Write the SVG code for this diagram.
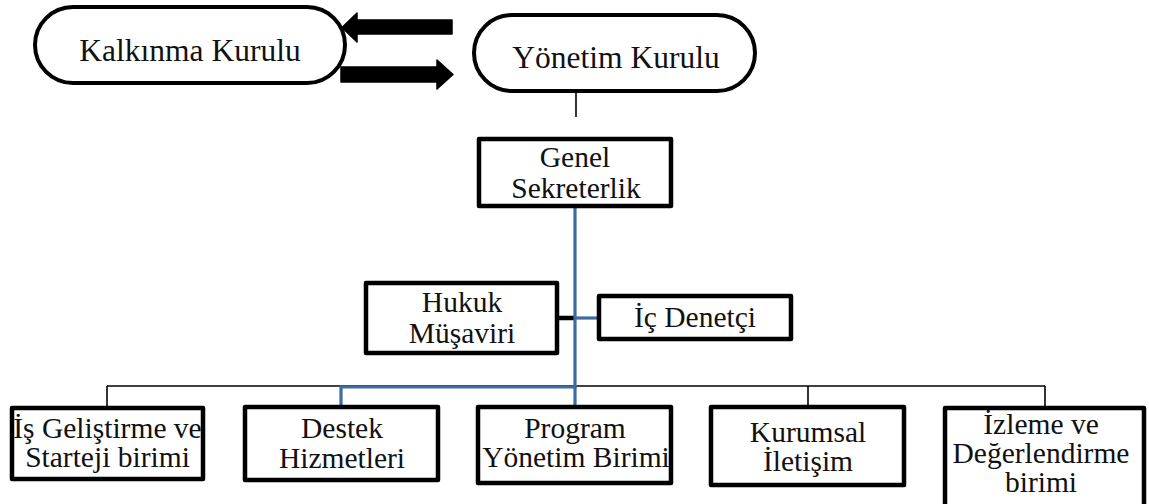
<svg xmlns="http://www.w3.org/2000/svg" width="1149" height="504" viewBox="0 0 1149 504">
  <style>
    .bg { fill: #ffffff; }
    .pill { fill: #ffffff; stroke: #000000; stroke-width: 4; }
    .box { fill: #ffffff; stroke: #000000; stroke-width: 4.5; stroke-linejoin: round; }
    .lbl { font-size: 29.5px; fill: #111111; text-anchor: middle; }
    .big { font-size: 31.5px; }
    .thin { stroke: #000000; stroke-width: 1.6; fill: none; }
    .thick { stroke: #000000; stroke-width: 4.5; fill: none; }
    .blue { stroke: #3E6BA0; stroke-width: 3.2; fill: none; }
    .arrow { fill: #000000; stroke: #000000; stroke-width: 1.5; stroke-linejoin: round; }
  </style>
  <rect class="bg" x="0" y="0" width="1149" height="504"/>

  <!-- connectors -->
  <g id="connectors">
    <!-- two-way exchange between the councils -->
    <polygon class="arrow" points="342,27.5 357,13 357,20 452,20 452,34 357,34 357,42"/>
    <polygon class="arrow" points="341,67 437,67 437,60 453,74.5 437,89 437,82 341,82"/>
    <!-- board to secretariat -->
    <line class="thin" x1="576" y1="93" x2="576" y2="117"/>
    <!-- unit bus -->
    <line class="thin" x1="107" y1="386" x2="1045" y2="386"/>
    <line class="thin" x1="107" y1="386" x2="107" y2="406"/>
    <line class="thin" x1="808" y1="386" x2="808" y2="405"/>
    <line class="thin" x1="1045" y1="386" x2="1045" y2="406"/>
    <!-- legal advisor stub -->
    <line class="thick" x1="559" y1="318" x2="575" y2="318"/>
    <!-- secretariat trunk -->
    <polyline class="blue" points="575,208 575,387 341,387 341,405"/>
    <line class="blue" x1="575" y1="385" x2="575" y2="405"/>
    <line class="blue" x1="575" y1="318" x2="597" y2="318" stroke-width="4.5"/>
  </g>

  <g font-family="'Liberation Serif', 'Times New Roman', 'DejaVu Serif', serif">
    <g id="kalkinma-kurulu">
      <rect class="pill" x="35" y="7" width="310" height="76" rx="38" ry="38"/>
      <text class="lbl big" x="190" y="61">Kalkınma Kurulu</text>
    </g>

    <g id="yonetim-kurulu">
      <rect class="pill" x="474" y="15" width="281" height="76" rx="38" ry="38"/>
      <text class="lbl big" x="616" y="68">Yönetim Kurulu</text>
    </g>

    <g id="genel-sekreterlik">
      <rect class="box" x="479" y="139" width="192" height="67"/>
      <text class="lbl" x="575" y="167">Genel</text>
      <text class="lbl" x="576" y="198">Sekreterlik</text>
    </g>

    <g id="hukuk-musaviri">
      <rect class="box" x="366" y="283" width="191" height="70"/>
      <text class="lbl" x="462" y="312">Hukuk</text>
      <text class="lbl" x="462" y="343">Müşaviri</text>
    </g>

    <g id="ic-denetci">
      <rect class="box" x="599" y="296" width="192" height="43"/>
      <text class="lbl" x="695" y="327">İç Denetçi</text>
    </g>

    <g id="is-gelistirme">
      <rect class="box" x="12" y="408" width="191" height="71"/>
      <text class="lbl" x="107.5" y="438">İş Geliştirme ve</text>
      <text class="lbl" x="107.5" y="467">Starteji birimi</text>
    </g>

    <g id="destek-hizmetleri">
      <rect class="box" x="245" y="407" width="193" height="73"/>
      <text class="lbl" x="342" y="438">Destek</text>
      <text class="lbl" x="342" y="468">Hizmetleri</text>
    </g>

    <g id="program-yonetim">
      <rect class="box" x="478" y="407" width="193" height="76"/>
      <text class="lbl" x="575" y="438">Program</text>
      <text class="lbl" x="576" y="467">Yönetim Birimi</text>
    </g>

    <g id="kurumsal-iletisim">
      <rect class="box" x="711" y="407" width="193" height="78"/>
      <text class="lbl" x="808" y="442">Kurumsal</text>
      <text class="lbl" x="808" y="471">İletişim</text>
    </g>

    <g id="izleme-degerlendirme">
      <rect class="box" x="945" y="408" width="199" height="100"/>
      <text class="lbl" x="1041" y="434">İzleme ve</text>
      <text class="lbl" x="1041" y="463">Değerlendirme</text>
      <text class="lbl" x="1041" y="492">birimi</text>
    </g>
  </g>
</svg>
